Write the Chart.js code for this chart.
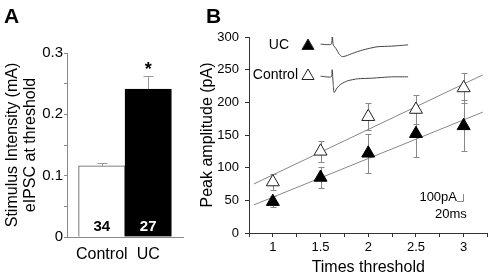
<!DOCTYPE html>
<html><head><meta charset="utf-8">
<script src="https://cdn.jsdelivr.net/npm/chart.js@4"></script>
<style>
html,body{margin:0;padding:0;background:#fff;overflow:hidden}
#wrap{position:relative;width:496px;height:280px;background:#fff}
canvas{position:absolute;top:0}
#ca{left:0}
#cb{left:195px}
</style></head><body>
<div id="wrap"><canvas id="ca" width="200" height="280"></canvas><canvas id="cb" width="301" height="280"></canvas></div>
<script>
// ---------- Panel A data ----------
const groupsA = ['Control', 'UC'];
const groupPosA = [0.3, 0.7];
const intensityA = [0.116, 0.241];
const intensityErrA = [0.005, 0.021];
const cellCountA = ['34', '27'];

// ---------- Panel B data ----------
const timesB = [1, 1.5, 2, 2.5, 3];
const controlB = [78, 125, 178, 189, 222];
const controlErrB = [12, 16, 21, 22, 23];
const ucB = [48, 85, 122, 152, 164];
const ucErrB = [8, 16, 30, 36, 39];
const fitX = [0.8, 3.2];
const controlFitY = [75, 242];
const ucFitY = [43, 185];
// example eIPSC traces (inset)
const ucTraceX = [1.50, 1.612, 1.622, 1.633, 1.663, 1.694, 1.724, 1.765, 1.837, 1.939, 2.092, 2.245, 2.418];
const ucTraceY = [289, 289, 306, 288, 282, 274, 270, 271, 275, 280, 285, 286, 288];
const controlTraceX = [1.50, 1.612, 1.622, 1.633, 1.643, 1.673, 1.714, 1.786, 1.888, 2.041, 2.245, 2.418];
const controlTraceY = [240, 239, 250, 227, 215, 222, 228, 233, 236, 237, 239, 239];

const FONT = "'Liberation Sans', Arial, sans-serif";
Chart.defaults.font.family = FONT;
Chart.defaults.color = '#000';

const pts = (xs, ys) => xs.map((x, i) => ({x: x, y: ys[i]}));

// ---------- Panel A ----------
const panelAPlugin = {
  id: 'panelA',
  afterDatasetsDraw(chart) {
    const ctx = chart.ctx, xs = chart.scales.x, ys = chart.scales.y;
    ctx.save();
    ctx.strokeStyle = '#999';
    ctx.lineWidth = 1;
    intensityA.forEach((v, i) => {
      const x = Math.round(xs.getPixelForValue(groupPosA[i])) + 0.5;
      const y1 = ys.getPixelForValue(v);
      const y2 = Math.round(ys.getPixelForValue(v + intensityErrA[i])) + 0.5;
      ctx.beginPath();
      ctx.moveTo(x, y1); ctx.lineTo(x, y2);
      ctx.moveTo(x - 5, y2); ctx.lineTo(x + 5, y2);
      ctx.stroke();
    });
    ctx.textAlign = 'center';
    ctx.textBaseline = 'middle';
    ctx.font = 'bold 15px ' + FONT;
    cellCountA.forEach((n, i) => {
      ctx.fillStyle = i === 0 ? '#000' : '#fff';
      ctx.fillText(n, xs.getPixelForValue(groupPosA[i]), ys.getPixelForValue(0) - 10);
    });
    ctx.fillStyle = '#000';
    ctx.font = 'bold 18px ' + FONT;
    ctx.fillText('*', xs.getPixelForValue(groupPosA[1]), ys.getPixelForValue(intensityA[1] + intensityErrA[1]) - 6);
    ctx.font = 'bold 21px ' + FONT;
    ctx.textAlign = 'left';
    ctx.textBaseline = 'alphabetic';
    ctx.fillText('A', 4, 23);
    ctx.restore();
  }
};

new Chart(document.getElementById('ca'), {
  type: 'bar',
  data: {
    datasets: [{
      data: pts(groupPosA, intensityA),
      backgroundColor: ['#fff', '#000'],
      borderColor: ['#555', '#000'],
      borderWidth: 1,
      borderSkipped: 'start',
      barThickness: 'flex',
      barPercentage: 1,
      categoryPercentage: 1
    }]
  },
  options: {
    responsive: false, animation: false, events: [],
    layout: {padding: {left: 0, top: 53, right: 17, bottom: 0}},
    plugins: {legend: {display: false}, tooltip: {enabled: false}},
    scales: {
      x: {
        type: 'linear', min: 0, max: 1, offset: false,
        afterBuildTicks: s => { s.ticks = groupPosA.map(v => ({value: v})); },
        afterFit: s => { s.height = 43; },
        grid: {display: false, drawTicks: false, tickLength: 0, offset: false},
        border: {display: true, color: '#888', width: 1},
        ticks: {
          padding: 8, maxRotation: 0, autoSkip: false,
          font: {size: 16},
          callback: v => { const i = groupPosA.indexOf(v); return i >= 0 ? groupsA[i] : ''; }
        }
      },
      y: {
        min: 0, max: 0.3,
        afterFit: s => { s.width = 67; },
        grid: {drawOnChartArea: false, tickLength: 3, color: '#888'},
        border: {display: true, color: '#888', width: 1},
        ticks: {
          stepSize: 0.05, padding: 1, font: {size: 15},
          callback: v => { const r = Math.round(v * 100); return r % 10 === 0 ? String(r / 100) : ''; }
        },
        title: {
          display: true,
          text: ['Stimulus Intensity (mA)', 'eIPSC at threshold'],
          font: {size: 16, lineHeight: 1.15},
          padding: {top: 3, bottom: 0}
        }
      }
    }
  },
  plugins: [panelAPlugin]
});

// ---------- Panel B ----------
function tri(ctx, x, y, r, fill) {
  ctx.beginPath();
  ctx.moveTo(x, y - r);
  ctx.lineTo(x + r * Math.sin(2 * Math.PI / 3), y + r / 2);
  ctx.lineTo(x - r * Math.sin(2 * Math.PI / 3), y + r / 2);
  ctx.closePath();
  ctx.fillStyle = fill;
  ctx.fill();
  ctx.strokeStyle = '#222';
  ctx.lineWidth = 1;
  ctx.stroke();
}

const panelBPlugin = {
  id: 'panelB',
  beforeDatasetsDraw(chart) {
    const ctx = chart.ctx, xs = chart.scales.x, ys = chart.scales.y;
    ctx.save();
    ctx.strokeStyle = '#888';
    ctx.lineWidth = 1;
    const draw = (means, errs) => {
      means.forEach((m, i) => {
        const x = Math.round(xs.getPixelForValue(timesB[i])) + 0.5;
        const yt = Math.round(ys.getPixelForValue(m + errs[i])) + 0.5;
        const yb = Math.round(ys.getPixelForValue(m - errs[i])) + 0.5;
        ctx.beginPath();
        ctx.moveTo(x, yt); ctx.lineTo(x, yb);
        ctx.moveTo(x - 3, yt); ctx.lineTo(x + 3, yt);
        ctx.moveTo(x - 3, yb); ctx.lineTo(x + 3, yb);
        ctx.stroke();
      });
    };
    draw(controlB, controlErrB);
    draw(ucB, ucErrB);
    ctx.restore();
  },
  afterDraw(chart) {
    const ctx = chart.ctx, a = chart.chartArea;
    ctx.save();
    ctx.fillStyle = '#000';
    ctx.font = 'bold 21px ' + FONT;
    ctx.textAlign = 'left';
    ctx.textBaseline = 'alphabetic';
    ctx.fillText('B', 11, 23);
    // legend
    ctx.font = '14px ' + FONT;
    ctx.textAlign = 'right';
    ctx.textBaseline = 'middle';
    ctx.fillText('UC', a.left + 40, a.top + 8);
    ctx.fillText('Control', a.left + 49, a.top + 38);
    tri(ctx, a.left + 59, a.top + 9, 7, '#000');
    tri(ctx, a.left + 59, a.top + 39, 7, '#fff');
    // scale bar
    ctx.fillStyle = '#000';
    ctx.font = '13px ' + FONT;
    ctx.textAlign = 'right';
    ctx.fillText('100pA', a.left + 208, a.top + 160);
    ctx.textAlign = 'left';
    ctx.fillText('20ms', a.left + 186, a.top + 177);
    ctx.strokeStyle = '#888';
    ctx.lineWidth = 1;
    ctx.beginPath();
    ctx.moveTo(a.left + 208, a.top + 164.5);
    ctx.lineTo(a.left + 214.5, a.top + 164.5);
    ctx.lineTo(a.left + 214.5, a.top + 157);
    ctx.stroke();
    ctx.restore();
  }
};

new Chart(document.getElementById('cb'), {
  type: 'scatter',
  data: {
    datasets: [
      {data: pts(timesB, controlB), pointStyle: 'triangle', pointRadius: 7.5,
       backgroundColor: '#fff', borderColor: '#222', borderWidth: 1},
      {data: pts(timesB, ucB), pointStyle: 'triangle', pointRadius: 7.5,
       backgroundColor: '#000', borderColor: '#000', borderWidth: 1},
      {data: pts(fitX, controlFitY), showLine: true, pointRadius: 0, borderColor: '#888', borderWidth: 1},
      {data: pts(fitX, ucFitY), showLine: true, pointRadius: 0, borderColor: '#888', borderWidth: 1},
      {data: pts(ucTraceX, ucTraceY), showLine: true, pointRadius: 0, borderColor: '#444', borderWidth: 1, tension: 0.2},
      {data: pts(controlTraceX, controlTraceY), showLine: true, pointRadius: 0, borderColor: '#444', borderWidth: 1, tension: 0.2}
    ]
  },
  options: {
    responsive: false, animation: false, events: [],
    layout: {padding: {left: 0, top: 37, right: 2.5, bottom: 0}},
    plugins: {legend: {display: false}, tooltip: {enabled: false}},
    scales: {
      x: {
        type: 'linear', min: 0.75, max: 3.25,
        afterFit: s => { s.height = 47; },
        grid: {drawOnChartArea: false, tickLength: 4, color: '#333'},
        border: {display: true, color: '#333', width: 1},
        ticks: {
          stepSize: 0.25, padding: 3, maxRotation: 0, autoSkip: false, font: {size: 13},
          callback: v => (v >= 1 && v <= 3 && Math.abs(v * 2 - Math.round(v * 2)) < 1e-9) ? String(v) : ''
        },
        title: {display: true, text: 'Times threshold', font: {size: 16, lineHeight: 1.15}, padding: {top: 0, bottom: 3}}
      },
      y: {
        min: 0, max: 300,
        afterFit: s => { s.width = 54; },
        grid: {drawOnChartArea: false, tickLength: 4, color: '#333'},
        border: {display: true, color: '#333', width: 1},
        ticks: {
          stepSize: 25, padding: 6, font: {size: 13},
          callback: v => v % 50 === 0 ? String(v) : ''
        },
        title: {display: true, text: 'Peak amplitude (pA)', font: {size: 16, lineHeight: 1.15}, padding: {top: 3, bottom: 0}}
      }
    }
  },
  plugins: [panelBPlugin]
});
</script>
</body></html>
